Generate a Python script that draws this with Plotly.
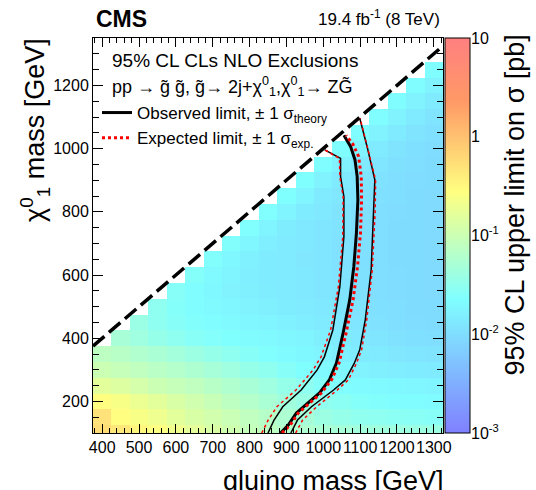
import math
import plotly.graph_objects as go

# ---------------- data ----------------
gluino_mass = [400 + 50 * i for i in range(19)]          # bin centres (GeV)
neutralino_mass = [100 + 50 * j for j in range(25)]      # bin centres (GeV)

# log10(95% CL upper limit on sigma [pb]); each row lists the filled cells
# from the first allowed gluino-mass bin up to 1300 GeV
limit_rows = {
    100: [-0.25, -0.35, -0.48, -0.58, -0.68, -0.78, -0.88, -0.98, -1.06, -1.13, -1.19, -1.24, -1.28, -1.31, -1.34, -1.36, -1.38, -1.39, -1.40],
    150: [-0.30, -0.55, -0.62, -0.70, -0.80, -0.88, -0.95, -1.02, -1.10, -1.18, -1.25, -1.32, -1.40, -1.45, -1.50, -1.52, -1.55, -1.56, -1.58],
    200: [-0.55, -0.62, -0.72, -0.80, -0.88, -0.96, -1.04, -1.12, -1.20, -1.28, -1.35, -1.42, -1.50, -1.55, -1.60, -1.62, -1.65, -1.66, -1.68],
    250: [-0.80, -0.85, -0.92, -1.00, -1.05, -1.10, -1.16, -1.23, -1.30, -1.38, -1.45, -1.52, -1.60, -1.65, -1.68, -1.70, -1.72, -1.74, -1.75],
    300: [-1.00, -1.05, -1.10, -1.15, -1.20, -1.26, -1.32, -1.38, -1.45, -1.51, -1.58, -1.64, -1.70, -1.74, -1.77, -1.80, -1.82, -1.84, -1.85],
    350: [-1.12, -1.16, -1.22, -1.28, -1.34, -1.40, -1.46, -1.52, -1.58, -1.63, -1.68, -1.72, -1.76, -1.80, -1.84, -1.87, -1.90, -1.92, -1.93],
    400: [-1.30, -1.38, -1.45, -1.52, -1.57, -1.61, -1.64, -1.67, -1.70, -1.73, -1.76, -1.80, -1.84, -1.88, -1.92, -1.95, -1.97, -1.98],
    450: [-1.42, -1.52, -1.58, -1.62, -1.66, -1.70, -1.73, -1.76, -1.79, -1.82, -1.85, -1.88, -1.92, -1.95, -1.98, -2.00, -2.01],
    500: [-1.52, -1.60, -1.66, -1.70, -1.74, -1.77, -1.80, -1.83, -1.86, -1.88, -1.91, -1.94, -1.97, -1.99, -2.01, -2.02],
    550: [-1.58, -1.66, -1.72, -1.77, -1.80, -1.83, -1.86, -1.88, -1.91, -1.93, -1.96, -1.98, -2.00, -2.02, -2.03],
    600: [-1.60, -1.70, -1.76, -1.81, -1.84, -1.87, -1.89, -1.92, -1.94, -1.96, -1.98, -2.00, -2.02, -2.03],
    650: [-1.62, -1.72, -1.79, -1.84, -1.87, -1.90, -1.92, -1.95, -1.97, -1.99, -2.01, -2.02, -2.03],
    700: [-1.62, -1.73, -1.81, -1.86, -1.89, -1.92, -1.95, -1.97, -1.99, -2.01, -2.02, -2.03],
    750: [-1.63, -1.75, -1.83, -1.88, -1.91, -1.94, -1.97, -1.99, -2.01, -2.02, -2.03],
    800: [-1.63, -1.76, -1.84, -1.89, -1.93, -1.96, -1.98, -2.00, -2.02, -2.03],
    850: [-1.64, -1.76, -1.85, -1.90, -1.94, -1.97, -1.99, -2.01, -2.03],
    900: [-1.64, -1.77, -1.86, -1.91, -1.95, -1.98, -2.00, -2.02],
    950: [-1.65, -1.77, -1.86, -1.92, -1.96, -1.99, -2.01],
    1000: [-1.65, -1.77, -1.87, -1.93, -1.97, -2.00],
    1050: [-1.65, -1.77, -1.87, -1.93, -1.97],
    1100: [-1.65, -1.77, -1.87, -1.93],
    1150: [-1.65, -1.77, -1.87],
    1200: [-1.65, -1.77],
    1250: [-1.65],
    1300: [],
}

# observed limit and +-1 sigma(theory)
obs_x = [884, 905, 927, 960, 990, 1017, 1036, 1054, 1072, 1083, 1090, 1094, 1092, 1086, 1074, 1056]
obs_y = [100, 125, 163, 195, 227, 269, 322, 417, 522, 627, 733, 838, 912, 965, 1007, 1042]
obs_m_x = [850, 866, 890, 940, 983, 1003, 1026, 1045, 1056, 1056, 1047, 1047, 1004]
obs_m_y = [100, 140, 183, 236, 299, 341, 426, 563, 721, 848, 911, 969, 996]
obs_p_x = [912, 930, 968, 1028, 1060, 1084, 1099, 1114, 1130, 1138, 1140, 1119, 1099]
obs_p_y = [100, 141, 183, 236, 268, 320, 363, 458, 616, 806, 901, 1006, 1096]
# expected limit and +-1 sigma(exp)
exp_x = [888, 910, 932, 964, 995, 1023, 1043, 1062, 1081, 1093, 1101, 1104, 1103, 1096, 1080, 1062]
exp_y = [100, 125, 163, 195, 227, 269, 322, 417, 522, 627, 733, 838, 912, 975, 1015, 1042]
exp_m_x = [833, 850, 874, 926, 972, 994, 1020, 1041, 1053, 1054, 1045, 1044, 1004]
exp_m_y = [100, 140, 183, 236, 299, 341, 426, 563, 721, 848, 911, 969, 996]
exp_p_x = [925, 944, 982, 1038, 1068, 1090, 1104, 1118, 1133, 1141, 1142, 1120, 1100]
exp_p_y = [100, 141, 183, 236, 268, 320, 363, 458, 616, 806, 901, 1006, 1096]

kinematic_limit = [375, 1325]   # m(chi) = m(gluino)

cbar_tickvals = [-3, -2, -1, 0, 1]
cbar_ticktext = ["10<sup>-3</sup>", "10<sup>-2</sup>", "10<sup>-1</sup>", "1", "10"]

# ---------------- build grid ----------------
z = []
for y in neutralino_mass:
    vals = limit_rows[y]
    row = [None] * (len(gluino_mass) - len(vals)) + list(vals)
    z.append(row)

FONT = "Liberation Sans, Arial, Helvetica, sans-serif"
W_PLOT = 420.0
L, T, B = 93, 38, 57
H_PLOT = 490 - T - B


def fx(px):
    return (px - L) / W_PLOT


def fy(py):
    return (490 - B - py) / H_PLOT


colorscale = [
    [0.00, "rgb(128,128,255)"],
    [0.34, "rgb(128,255,255)"],
    [0.61, "rgb(255,255,128)"],
    [0.84, "rgb(255,153,102)"],
    [1.00, "rgb(255,128,128)"],
]

fig = go.Figure()
fig.add_trace(go.Heatmap(
    x=gluino_mass, y=neutralino_mass, z=z,
    zmin=-3, zmax=1, colorscale=colorscale, hoverongaps=False,
    colorbar=dict(
        x=fx(445), xanchor="left", xref="paper", xpad=0, ypad=0,
        y=0.5, yanchor="middle", len=1.0, lenmode="fraction",
        thickness=25, thicknessmode="pixels",
        outlinecolor="black", outlinewidth=1,
        showticklabels=False, ticks="",
    ),
))

fig.add_trace(go.Scatter(x=kinematic_limit, y=kinematic_limit, mode="lines",
                         line=dict(color="black", width=3.5, dash="15px,6px"),
                         showlegend=False, hoverinfo="skip"))

for xs, ys in [(obs_m_x, obs_m_y), (obs_p_x, obs_p_y)]:
    fig.add_trace(go.Scatter(x=xs, y=ys, mode="lines", line=dict(color="black", width=1.5),
                             showlegend=False, hoverinfo="skip"))
fig.add_trace(go.Scatter(x=obs_x, y=obs_y, mode="lines", line=dict(color="black", width=3),
                         name="Observed limit, \u00b1 1 \u03c3<sub>theory</sub>"))
for xs, ys in [(exp_m_x, exp_m_y), (exp_p_x, exp_p_y)]:
    fig.add_trace(go.Scatter(x=xs, y=ys, mode="lines",
                             line=dict(color="red", width=1.5, dash="dot"),
                             showlegend=False, hoverinfo="skip"))
fig.add_trace(go.Scatter(x=exp_x, y=exp_y, mode="lines",
                         line=dict(color="red", width=3, dash="dot"),
                         name="Expected limit, \u00b1 1 \u03c3<sub>exp.</sub>"))

# helper subplot whose y axis carries the colour-bar labels and ticks
minor_vals = []
for dec in [-3, -2, -1, 0]:
    minor_vals += [dec + math.log10(k) for k in range(2, 10)]

fig.add_trace(go.Scatter(x=[0, 1], y=[-3, 1], xaxis="x2", yaxis="y2", mode="markers",
                         marker=dict(opacity=0), showlegend=False, hoverinfo="skip"))

fig.update_layout(
    width=536, height=490,
    margin=dict(l=L, r=536 - L - int(W_PLOT), t=T, b=B, autoexpand=False),
    paper_bgcolor="white", plot_bgcolor="white",
    font=dict(family=FONT, size=16, color="black"),
    xaxis=dict(domain=[0, 350 / W_PLOT], range=[375, 1325], automargin=False,
               tick0=400, dtick=100, tickangle=0, ticks="inside", ticklen=9, tickcolor="black",
               minor=dict(dtick=20, tick0=400, ticks="inside", ticklen=5, tickcolor="black"),
               showline=True, linecolor="black", linewidth=1, mirror="allticks",
               showgrid=False, zeroline=False, tickfont=dict(size=16)),
    yaxis=dict(range=[100, 1350], tick0=200, dtick=200, automargin=False,
               ticks="inside", ticklen=10, tickcolor="black",
               minor=dict(dtick=50, tick0=200, ticks="inside", ticklen=6, tickcolor="black"),
               showline=True, linecolor="black", linewidth=1, mirror="allticks",
               showgrid=False, zeroline=False, tickfont=dict(size=16)),
    xaxis2=dict(domain=[fx(445), fx(470)], range=[0, 1], visible=False, anchor="y2", automargin=False),
    yaxis2=dict(domain=[0, 1], range=[-3, 1], anchor="x2", side="right", automargin=False,
                tickvals=cbar_tickvals, ticktext=cbar_ticktext,
                ticks="inside", ticklen=10, tickcolor="black",
                minor=dict(tickvals=minor_vals, ticks="inside", ticklen=5, tickcolor="black"),
                showline=False, showgrid=False, zeroline=False, tickfont=dict(size=16)),
    legend=dict(x=fx(97), y=fy(95), xanchor="left", yanchor="top",
                bgcolor="rgba(0,0,0,0)", font=dict(size=17), itemwidth=30,
                tracegroupgap=0),
    showlegend=True,
)

ann = [
    dict(text="<b>CMS</b>", x=fx(94), y=fy(19), xanchor="left", yanchor="middle", font=dict(size=23)),
    dict(text="19.4 fb<sup>-1</sup> (8 TeV)", x=fx(442), y=fy(18), xanchor="right", yanchor="middle", font=dict(size=17)),
    dict(text="95% CL CLs NLO Exclusions", x=fx(110), y=fy(61), xanchor="left", yanchor="middle", font=dict(size=19)),
    dict(text="pp \u2192 g\u0303 g\u0303, g\u0303\u2192 2j+\u03c7<sup>0</sup><sub>1</sub>,\u03c7<sup>0</sup><sub>1</sub>\u2192 ZG\u0303",
         x=fx(110), y=fy(86), xanchor="left", yanchor="middle", font=dict(size=18)),
    dict(text="gluino mass [GeV]", x=fx(446), y=fy(464), xanchor="right", yanchor="top", font=dict(size=27)),
    dict(text="\u03c7<sup>0</sup><sub>1</sub> mass [GeV]", x=fx(35), y=fy(36), xanchor="center", yanchor="top",
         textangle=-90, font=dict(size=27)),
    dict(text="95% CL upper limit on \u03c3 [pb]", x=fx(515), y=fy(33), xanchor="center", yanchor="top",
         textangle=-90, font=dict(size=27)),
]
for a in ann:
    a.update(xref="paper", yref="paper", showarrow=False)
fig.update_layout(annotations=ann)

fig.write_html("out.html", config={"displayModeBar": False},
               post_script="document.body.style.margin='0px';")
